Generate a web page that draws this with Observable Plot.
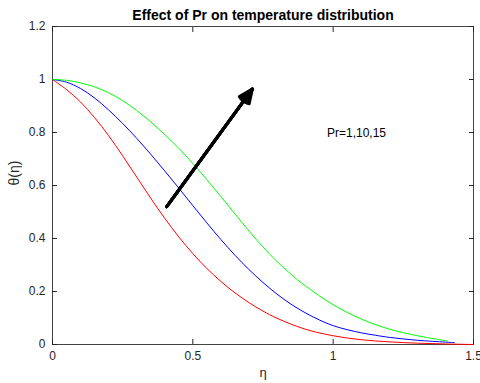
<!DOCTYPE html>
<html>
<head>
<meta charset="utf-8">
<script src="https://cdn.jsdelivr.net/npm/d3@7"></script>
<script src="https://cdn.jsdelivr.net/npm/@observablehq/plot@0.6"></script>
<style>
  html, body { margin: 0; padding: 0; background: #fff; }
  #chart svg { display: block; }
</style>
</head>
<body>
<div id="chart"></div>
<script>
// ---- data ----
const etaRed   = [0, 0.05, 0.1, 0.15, 0.2, 0.25, 0.3, 0.35, 0.4, 0.45, 0.5, 0.55, 0.6, 0.65, 0.7, 0.75, 0.8, 0.9, 1.0, 1.1, 1.2, 1.3, 1.4, 1.5];
const thetaRed = [1.0, 0.962, 0.915, 0.856, 0.788, 0.712, 0.632, 0.552, 0.476, 0.406, 0.343, 0.287, 0.238, 0.195, 0.158, 0.126, 0.099, 0.058, 0.033, 0.018, 0.010, 0.005, 0.002, 0.0];

const etaBlue   = [0, 0.05, 0.1, 0.15, 0.2, 0.25, 0.3, 0.35, 0.4, 0.45, 0.5, 0.55, 0.6, 0.65, 0.7, 0.75, 0.8, 0.85, 0.9, 0.95, 1.0, 1.05, 1.1, 1.15, 1.2, 1.3, 1.4, 1.432];
const thetaBlue = [1.0, 0.990, 0.966, 0.930, 0.885, 0.834, 0.778, 0.718, 0.655, 0.590, 0.524, 0.459, 0.396, 0.337, 0.283, 0.234, 0.190, 0.152, 0.120, 0.093, 0.071, 0.056, 0.044, 0.035, 0.027, 0.016, 0.009, 0.007];

const etaGreen   = [0, 0.05, 0.1, 0.15, 0.2, 0.25, 0.3, 0.35, 0.4, 0.45, 0.5, 0.55, 0.6, 0.65, 0.7, 0.75, 0.8, 0.85, 0.9, 1.0, 1.1, 1.2, 1.3, 1.408];
const thetaGreen = [1.0, 0.997, 0.987, 0.972, 0.95, 0.92, 0.883, 0.84, 0.792, 0.74, 0.683, 0.622, 0.558, 0.493, 0.428, 0.368, 0.313, 0.265, 0.222, 0.15, 0.096, 0.058, 0.033, 0.013];

const seriesNames  = ["Pr=1", "Pr=10", "Pr=15"];
const seriesColors = ["#ff0000", "#0000ff", "#00ff00"];

const xTicks = [0, 0.5, 1, 1.5];
const xTickLabels = ["0", "0.5", "1", "1.5"];
const yTicks = [0, 0.2, 0.4, 0.6, 0.8, 1, 1.2];
const yTickLabels = ["0", "0.2", "0.4", "0.6", "0.8", "1", "1.2"];

const arrowTail = [0.407, 0.52];   // [eta, theta]
const arrowTip  = [0.712, 0.964];

const annotation = {eta: 0.978, theta: 0.796, text: "Pr=1,10,15"};
const titleText = "Effect of Pr on temperature distribution";
const xLabel = "η";
const yLabel = "θ(η)";

// ---- build table ----
const rows = [];
[[etaRed, thetaRed], [etaBlue, thetaBlue], [etaGreen, thetaGreen]].forEach(([xs, ys], k) => {
  xs.forEach((x, i) => rows.push({eta: x, theta: ys[i], series: seriesNames[k]}));
});

const font = "'Liberation Sans', Arial, Helvetica, sans-serif";
const axisColor = "#262626";

// several arrowheads with growing head angles fill in a solid-looking head
const headAngles = [8, 18, 28, 38, 48];
const arrowMarks = headAngles.map(a =>
  Plot.arrow([{x1: arrowTail[0], y1: arrowTail[1], x2: arrowTip[0], y2: arrowTip[1]}], {
    x1: "x1", y1: "y1", x2: "x2", y2: "y2", stroke: "#000", strokeWidth: 3, headLength: 7.5, headAngle: a
  })
);

const chart = Plot.plot({
  width: 480,
  height: 383,
  marginLeft: 52,
  marginRight: 7,
  marginTop: 26,
  marginBottom: 39,
  style: {fontFamily: font, fontSize: "12px", color: axisColor, background: "#fff"},
  x: {domain: [0, 1.5], axis: null},
  y: {domain: [0, 1.2], axis: null},
  color: {domain: seriesNames, range: seriesColors},
  marks: [
    Plot.frame({stroke: "#444", strokeWidth: 1}),
    Plot.axisX({anchor: "bottom", ticks: xTicks, tickFormat: (d) => xTickLabels[xTicks.indexOf(d)], tickSize: -5, tickPadding: 12, label: null, stroke: axisColor, fill: axisColor, fontSize: 12}),
    Plot.axisX({anchor: "top", ticks: xTicks, tickFormat: () => "", tickSize: -5, label: null, stroke: axisColor}),
    Plot.axisY({anchor: "left", ticks: yTicks, tickFormat: (d) => yTickLabels[yTicks.findIndex(t => Math.abs(t - d) < 1e-9)], tickSize: -5, tickPadding: 12, label: null, stroke: axisColor, fill: axisColor, fontSize: 12}),
    Plot.axisY({anchor: "right", ticks: yTicks, tickFormat: () => "", tickSize: -5, label: null, stroke: axisColor}),
    Plot.line(rows, {x: "eta", y: "theta", z: "series", stroke: "series", strokeWidth: 1, curve: "catmull-rom"}),
    ...arrowMarks,
    Plot.text([annotation], {x: "eta", y: "theta", text: "text", textAnchor: "start", fill: "#000", fontSize: 12}),
    Plot.text([titleText], {frameAnchor: "top", text: d => d, dy: -16, fontWeight: "bold", fontSize: 14, fill: "#000"}),
    Plot.text([xLabel], {frameAnchor: "bottom", text: d => d, dy: 32, fontSize: 13, fill: axisColor}),
    Plot.text([yLabel], {frameAnchor: "left", text: d => d, dx: -38, rotate: -90, fontSize: 14, fill: axisColor})
  ]
});
document.getElementById("chart").appendChild(chart);
</script>
</body>
</html>
